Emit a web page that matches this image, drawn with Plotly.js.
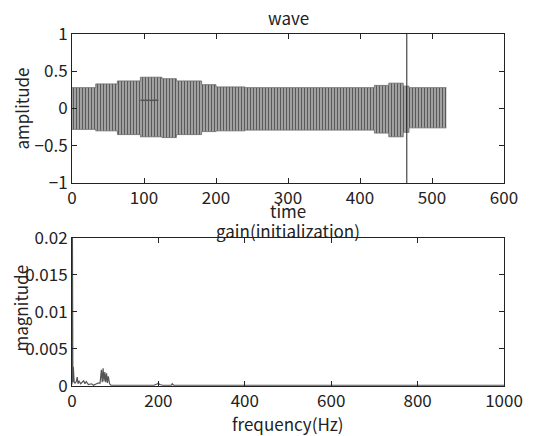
<!DOCTYPE html>
<html>
<head>
<meta charset="utf-8">
<script src="https://cdn.plot.ly/plotly-3.0.1.min.js"></script>
<style>html,body{margin:0;padding:0;background:#fff;}#chart{width:546px;height:436px;}</style>
</head>
<body>
<div id="chart"></div>
<script>
// ---- top panel: wave envelope (segment start times and amplitude bounds) ----
const waveT     = [0, 33, 63, 95, 125, 145, 180, 200, 240, 420, 440, 460, 468, 520];
const waveUpper = [0.28, 0.33, 0.37, 0.42, 0.40, 0.37, 0.32, 0.29, 0.28, 0.31, 0.34, 0.30, 0.28, 0.28];
const waveLower = [-0.28, -0.30, -0.35, -0.38, -0.39, -0.35, -0.31, -0.30, -0.29, -0.33, -0.38, -0.32, -0.26, -0.26];
const markerT = [465, 465];
const markerY = [-1, 1];
const stubT = [95, 120];
const stubY = [0.11, 0.11];
const timeTicks = [0, 100, 200, 300, 400, 500, 600];
const ampTicks = [-1, -0.5, 0, 0.5, 1];
const ampTickText = ['\u22121', '\u22120.5', '0', '0.5', '1'];

// ---- bottom panel: spectrum ----
const freq = [0, 1, 2, 3, 5, 7, 10, 12, 14, 16, 20, 24, 27, 30, 33, 38, 45, 50, 55, 60, 65, 68, 70, 72, 74, 76, 78, 80, 82, 84, 87, 90, 100, 130, 160, 190, 198, 200, 203, 210, 230, 232, 235, 300, 400, 500, 600, 700, 800, 900, 1000];
const mag  = [0.0002, 0.02, 0.0005, 0.0026, 0.0005, 0.0004, 0.0006, 0.0012, 0.0003, 0.0007, 0.0003, 0.0005, 0.0007, 0.0003, 0.0006, 0.0002, 0.0003, 0.0001, 0.0003, 0.0004, 0.0004, 0.0022, 0.0005, 0.0024, 0.0006, 0.0019, 0.0005, 0.0017, 0.0004, 0.0013, 0.0003, 0.0001, 0.0001, 0.0001, 0.0001, 0.0001, 0.0003, 0.0004, 0.0002, 0.0001, 0.0001, 0.0003, 0.0001, 0.0001, 0.0001, 0.0001, 0.0001, 0.0001, 0.0001, 0.0001, 0.0001];
const freqTicks = [0, 200, 400, 600, 800, 1000];
const magTicks = [0, 0.005, 0.01, 0.015, 0.02];
const magTickText = ['0', '0.005', '0.01', '0.015', '0.02'];

const FONT = 'Noto Sans CJK JP, DejaVu Sans, sans-serif';
const INK = '#222';

const traces = [
  {x: waveT, y: waveUpper, xaxis: 'x', yaxis: 'y', mode: 'lines', line: {shape: 'hv', color: '#666', width: 0.8}, hoverinfo: 'skip'},
  {x: waveT, y: waveLower, xaxis: 'x', yaxis: 'y', mode: 'lines', line: {shape: 'hv', color: '#666', width: 0.8}, fill: 'tonexty', fillcolor: '#a0a0a0',
   fillpattern: {shape: '|', size: 3, solidity: 0.5, fgcolor: '#595959', bgcolor: '#b9b9b9'}, hoverinfo: 'skip'},
  {x: stubT, y: stubY, xaxis: 'x', yaxis: 'y', mode: 'lines', line: {color: '#555', width: 1.5}},
  {x: markerT, y: markerY, xaxis: 'x', yaxis: 'y', mode: 'lines', line: {color: '#222', width: 1}},
  {x: freq, y: mag, xaxis: 'x2', yaxis: 'y2', mode: 'lines', line: {color: '#555', width: 1.2}}
];

const axisCommon = {
  showline: true, linecolor: INK, linewidth: 1, mirror: 'ticks',
  ticks: 'inside', ticklen: 5, tickcolor: INK, showgrid: false, zeroline: false,
  tickfont: {family: FONT, size: 17, color: INK}
};

function ann(text, x, y, xs, ys, angle) {
  return {text: text, xref: 'paper', yref: 'paper', x: x, y: y, xshift: xs, yshift: ys,
          xanchor: 'center', yanchor: 'middle', textangle: angle || 0, showarrow: false,
          font: {family: FONT, size: 17, color: INK}};
}

const layout = {
  width: 546, height: 436,
  margin: {l: 72, r: 42, t: 34, b: 50},
  paper_bgcolor: '#fff', plot_bgcolor: '#fff',
  showlegend: false,
  xaxis: Object.assign({}, axisCommon, {domain: [0, 1], range: [0, 600], tickvals: timeTicks, anchor: 'y'}),
  yaxis: Object.assign({}, axisCommon, {domain: [0.5767, 1], range: [-1, 1], tickvals: ampTicks, ticktext: ampTickText, anchor: 'x'}),
  xaxis2: Object.assign({}, axisCommon, {domain: [0, 1], range: [0, 1000], tickvals: freqTicks, anchor: 'y2'}),
  yaxis2: Object.assign({}, axisCommon, {domain: [0, 0.4205], range: [0, 0.02], tickvals: magTicks, ticktext: magTickText, anchor: 'x2'}),
  annotations: [
    ann('wave', 0.5, 1, 0, 17),
    ann('time', 0.5, 0.5767, 0, -27),
    ann('amplitude', 0, 0.7883, -50, 0, -90),
    ann('gain(initialization)', 0.5, 0.4205, 0, 7),
    ann('frequency(Hz)', 0.5, 0, 0, -37),
    ann('magnitude', 0, 0.22, -51, 0, -90)
  ]
};

Plotly.newPlot('chart', traces, layout, {displayModeBar: false, staticPlot: true});
</script>
</body>
</html>
